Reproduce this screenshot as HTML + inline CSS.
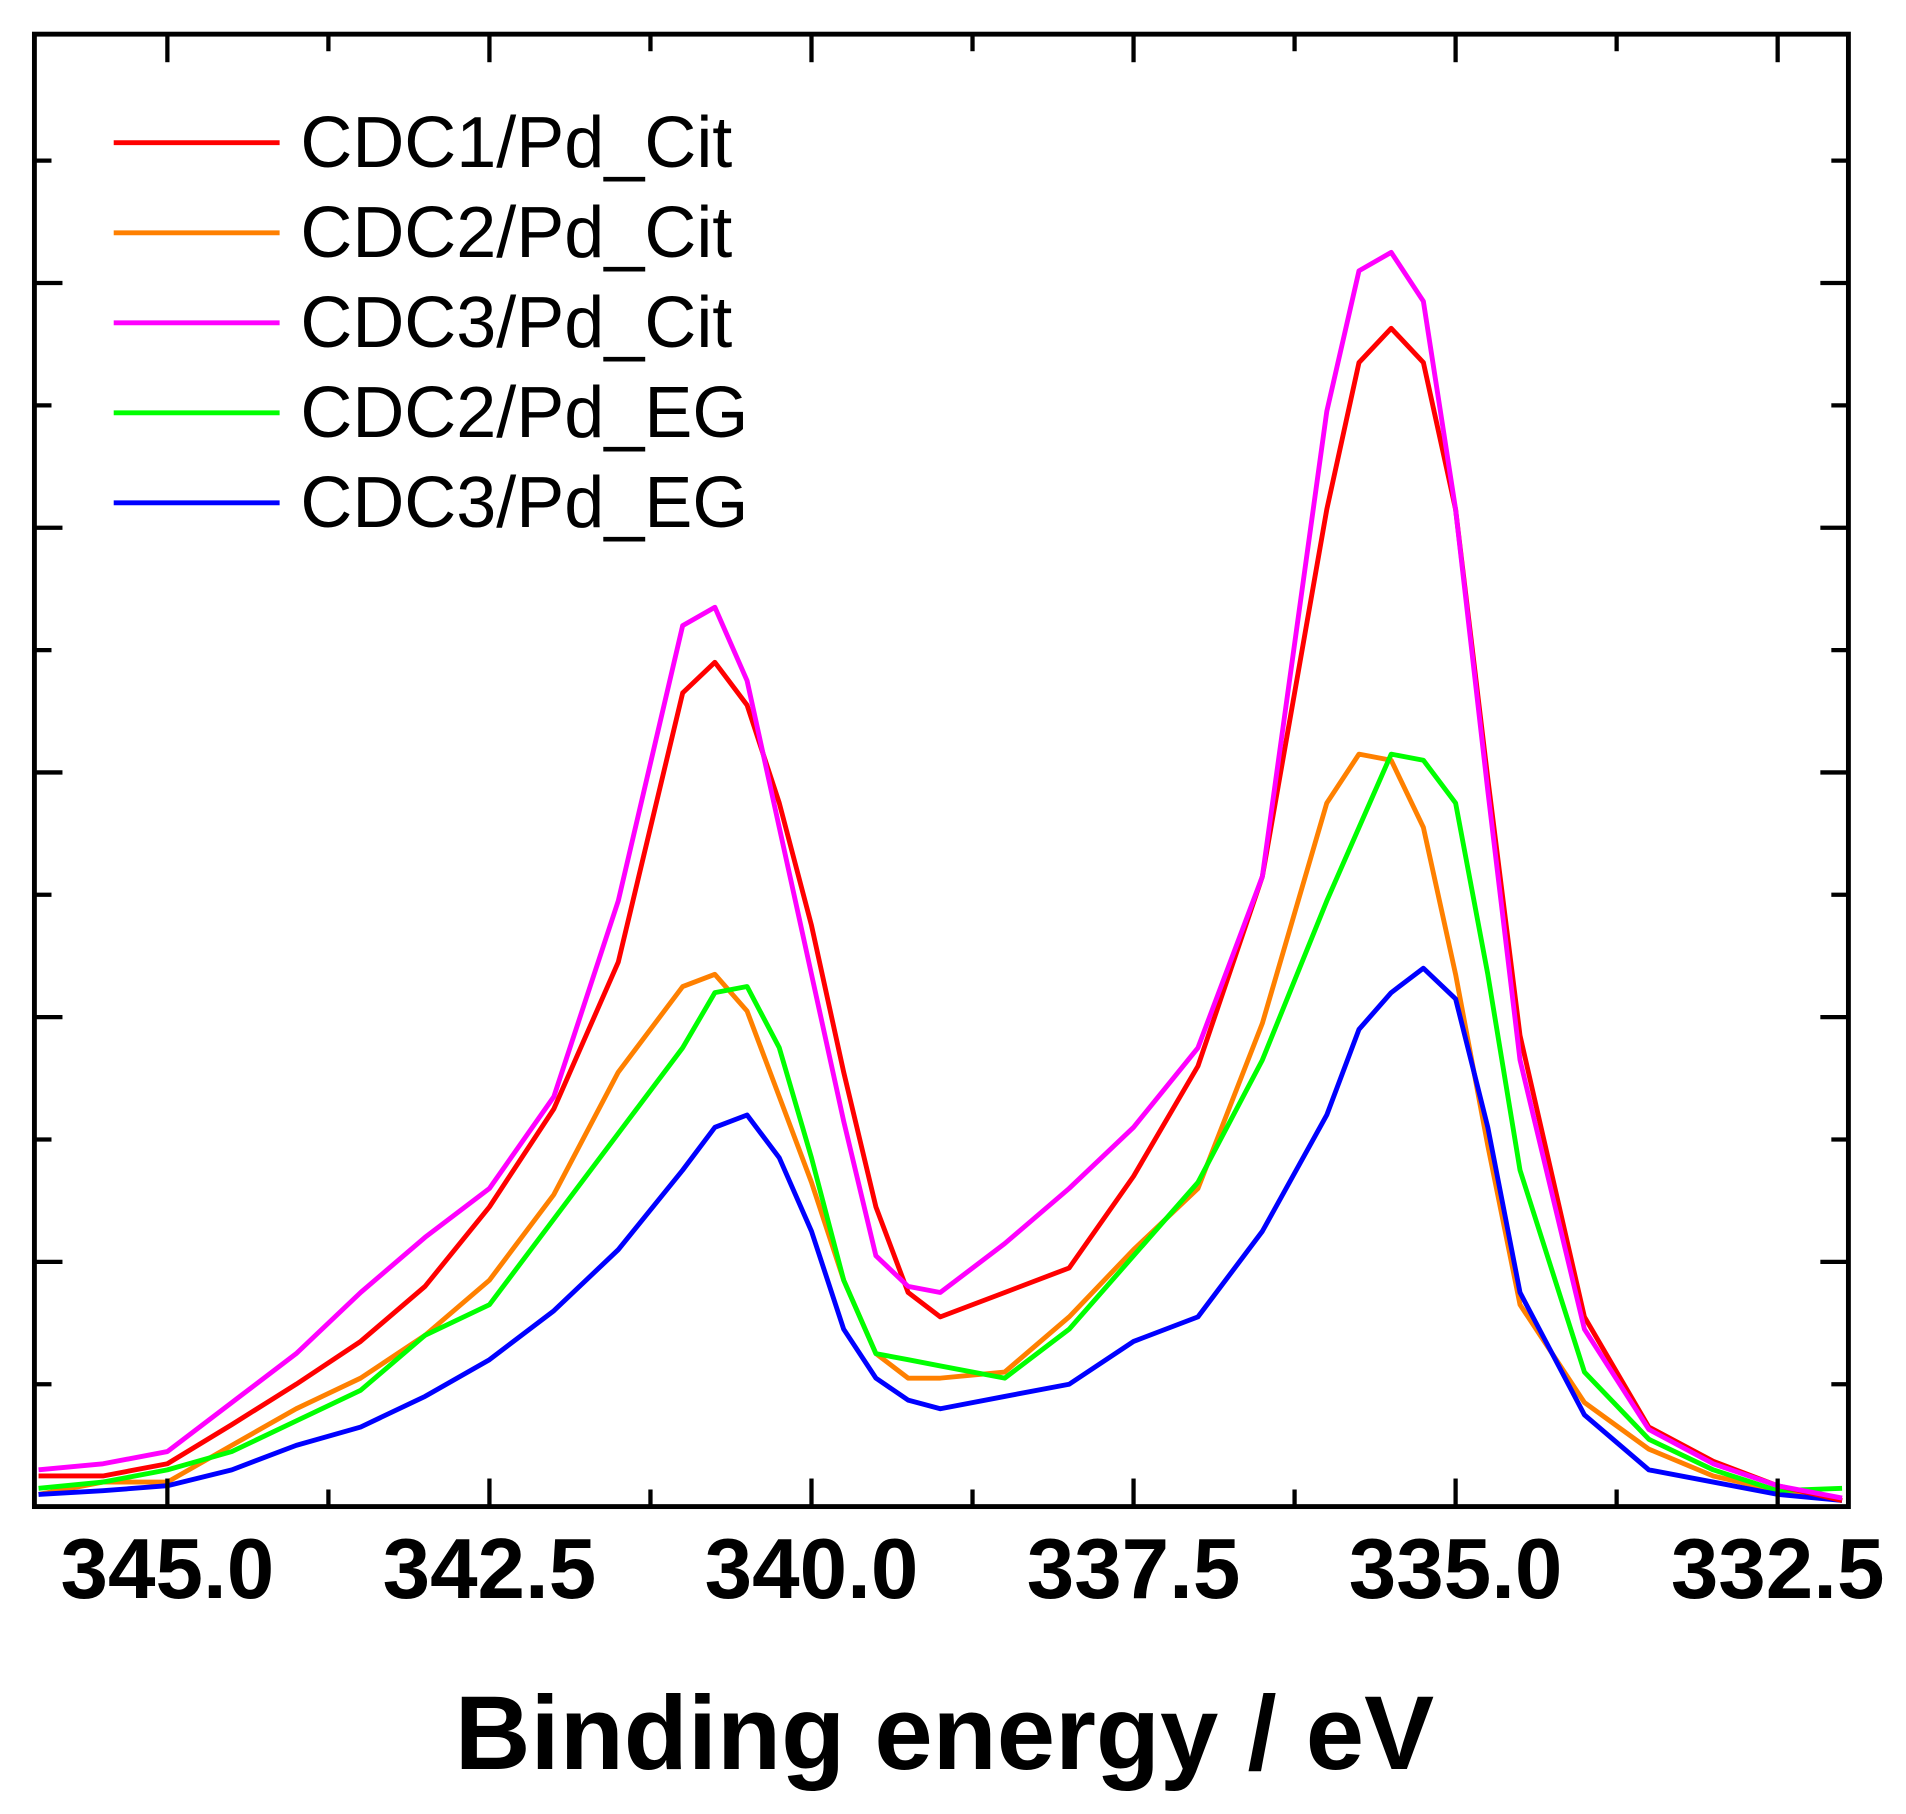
<!DOCTYPE html>
<html><head><meta charset="utf-8"><style>
html,body{margin:0;padding:0;background:#fff;}
svg{display:block;}
</style></head><body>
<svg id="chart" width="1906" height="1814" viewBox="0 0 1562 1487" xmlns="http://www.w3.org/2000/svg">
<rect x="0" y="0" width="1562" height="1487" fill="#fff"/>
<g id="plot"></g>
</svg>
<script>
const energies=[346,345.5,345,344.5,344,343.5,343,342.5,342,341.5,341,340.75,340.5,340.25,340,339.75,339.5,339.25,339,338.5,338,337.5,337,336.5,336,335.75,335.5,335.25,335,334.75,334.5,334,333.5,333,332.5,332];
const cdc1Cit=[0.25,0.25,0.35,0.67,1.0,1.35,1.8,2.45,3.25,4.45,6.65,6.9,6.55,5.75,4.75,3.55,2.45,1.75,1.55,1.75,1.95,2.7,3.6,5.15,8.15,9.35,9.63,9.35,8.15,5.95,3.85,1.55,0.65,0.37,0.17,0.05];
const cdc2Cit=[0.1,0.2,0.2,0.5,0.8,1.05,1.4,1.85,2.55,3.55,4.25,4.35,4.05,3.35,2.65,1.85,1.25,1.05,1.05,1.1,1.55,2.1,2.6,3.95,5.75,6.15,6.1,5.55,4.35,2.95,1.65,0.85,0.47,0.25,0.13,0.05];
const cdc3Cit=[0.3,0.35,0.45,0.85,1.25,1.75,2.2,2.6,3.35,4.95,7.2,7.35,6.75,5.55,4.35,3.15,2.05,1.8,1.75,2.15,2.6,3.1,3.75,5.15,8.95,10.1,10.25,9.85,8.15,5.85,3.65,1.45,0.63,0.35,0.17,0.07];
const cdc2EG=[0.15,0.2,0.3,0.45,0.7,0.95,1.4,1.65,2.35,3.05,3.75,4.2,4.25,3.75,2.85,1.85,1.25,1.2,1.15,1.05,1.45,2.05,2.65,3.65,4.95,5.55,6.15,6.1,5.75,4.35,2.75,1.1,0.55,0.3,0.13,0.15];
const cdc3EG=[0.1,0.13,0.17,0.3,0.5,0.65,0.9,1.2,1.6,2.1,2.75,3.1,3.2,2.85,2.25,1.45,1.05,0.87,0.8,0.9,1.0,1.35,1.55,2.25,3.2,3.9,4.2,4.4,4.15,3.1,1.75,0.75,0.3,0.2,0.1,0.05];
const seriesNames=["CDC1/Pd_Cit","CDC2/Pd_Cit","CDC3/Pd_Cit","CDC2/Pd_EG","CDC3/Pd_EG"];
const seriesColors=["#ff0000","#ff8000","#ff00ff","#00ff00","#0000ff"];
const xTickLabels=["345.0","342.5","340.0","337.5","335.0","332.5"];
const xTickValues=[345,342.5,340,337.5,335,332.5];
const xMinorValues=[343.75,341.25,338.75,336.25,333.75];
const yTickValues=[1,2,3,4,5,6,7,8,9,10,11];

const NS="http://www.w3.org/2000/svg";
const L=28,R=1515,T=28,B=1235;
const xs=e=>137+(345-e)*105.6;
const ys=v=>B-v*100.3;
const g=document.getElementById('plot');
function mk(tag,attrs){const el=document.createElementNS(NS,tag);for(const k in attrs)el.setAttribute(k,attrs[k]);g.appendChild(el);return el;}

const allSeries=[cdc1Cit,cdc2Cit,cdc3Cit,cdc2EG,cdc3EG];
const drawOrder=[1,3,4,0,2];
drawOrder.forEach(i=>{
  const d=energies.map((e,j)=>(j?'L':'M')+xs(e).toFixed(1)+','+ys(allSeries[i][j]).toFixed(1)).join(' ');
  const p=mk('path',{d:d,fill:'none',stroke:seriesColors[i],'stroke-width':4,'stroke-linejoin':'round'});
  
  
});

xTickValues.forEach((v,i)=>{
  const x=xs(v);
  const t1=mk('line',{x1:x,y1:B,x2:x,y2:B-23,stroke:'#000','stroke-width':3.5});
  
  
  const t2=mk('line',{x1:x,y1:T,x2:x,y2:T+23,stroke:'#000','stroke-width':3.5});
  
  
  const tx=mk('text',{x:x,y:1310,'text-anchor':'middle','font-family':'Liberation Sans, Arial, sans-serif','font-weight':'bold','font-size':70,fill:'#000'});
  tx.textContent=xTickLabels[i];
  
  
});
xMinorValues.forEach(v=>{
  const x=xs(v);
  const t1=mk('line',{x1:x,y1:B,x2:x,y2:B-14,stroke:'#000','stroke-width':3.5});
  
  
  const t2=mk('line',{x1:x,y1:T,x2:x,y2:T+14,stroke:'#000','stroke-width':3.5});
  
  
});
yTickValues.forEach(v=>{
  const y=ys(v);const len=(v%2===0)?23:14;
  const t1=mk('line',{x1:L,y1:y,x2:L+len,y2:y,stroke:'#000','stroke-width':3.5});
  
  
  const t2=mk('line',{x1:R,y1:y,x2:R-len,y2:y,stroke:'#000','stroke-width':3.5});
  
  
});

const fr=mk('rect',{x:L,y:T,width:R-L,height:B-T,fill:'none',stroke:'#000','stroke-width':4});



seriesNames.forEach((n,i)=>{
  const y=117+i*73.8;
  const ln=mk('line',{x1:93,y1:y,x2:229,y2:y,stroke:seriesColors[i],'stroke-width':4});
  
  
  const tx=mk('text',{x:246,y:y+20,'font-family':'Liberation Sans, Arial, sans-serif','font-size':59,fill:'#000'});
  tx.textContent=n;
  
  
});

const at=mk('text',{x:774,y:1450,'text-anchor':'middle','font-family':'Liberation Sans, Arial, sans-serif','font-weight':'bold','font-size':86,fill:'#000'});
at.textContent='Binding energy / eV';


</script>
</body></html>
